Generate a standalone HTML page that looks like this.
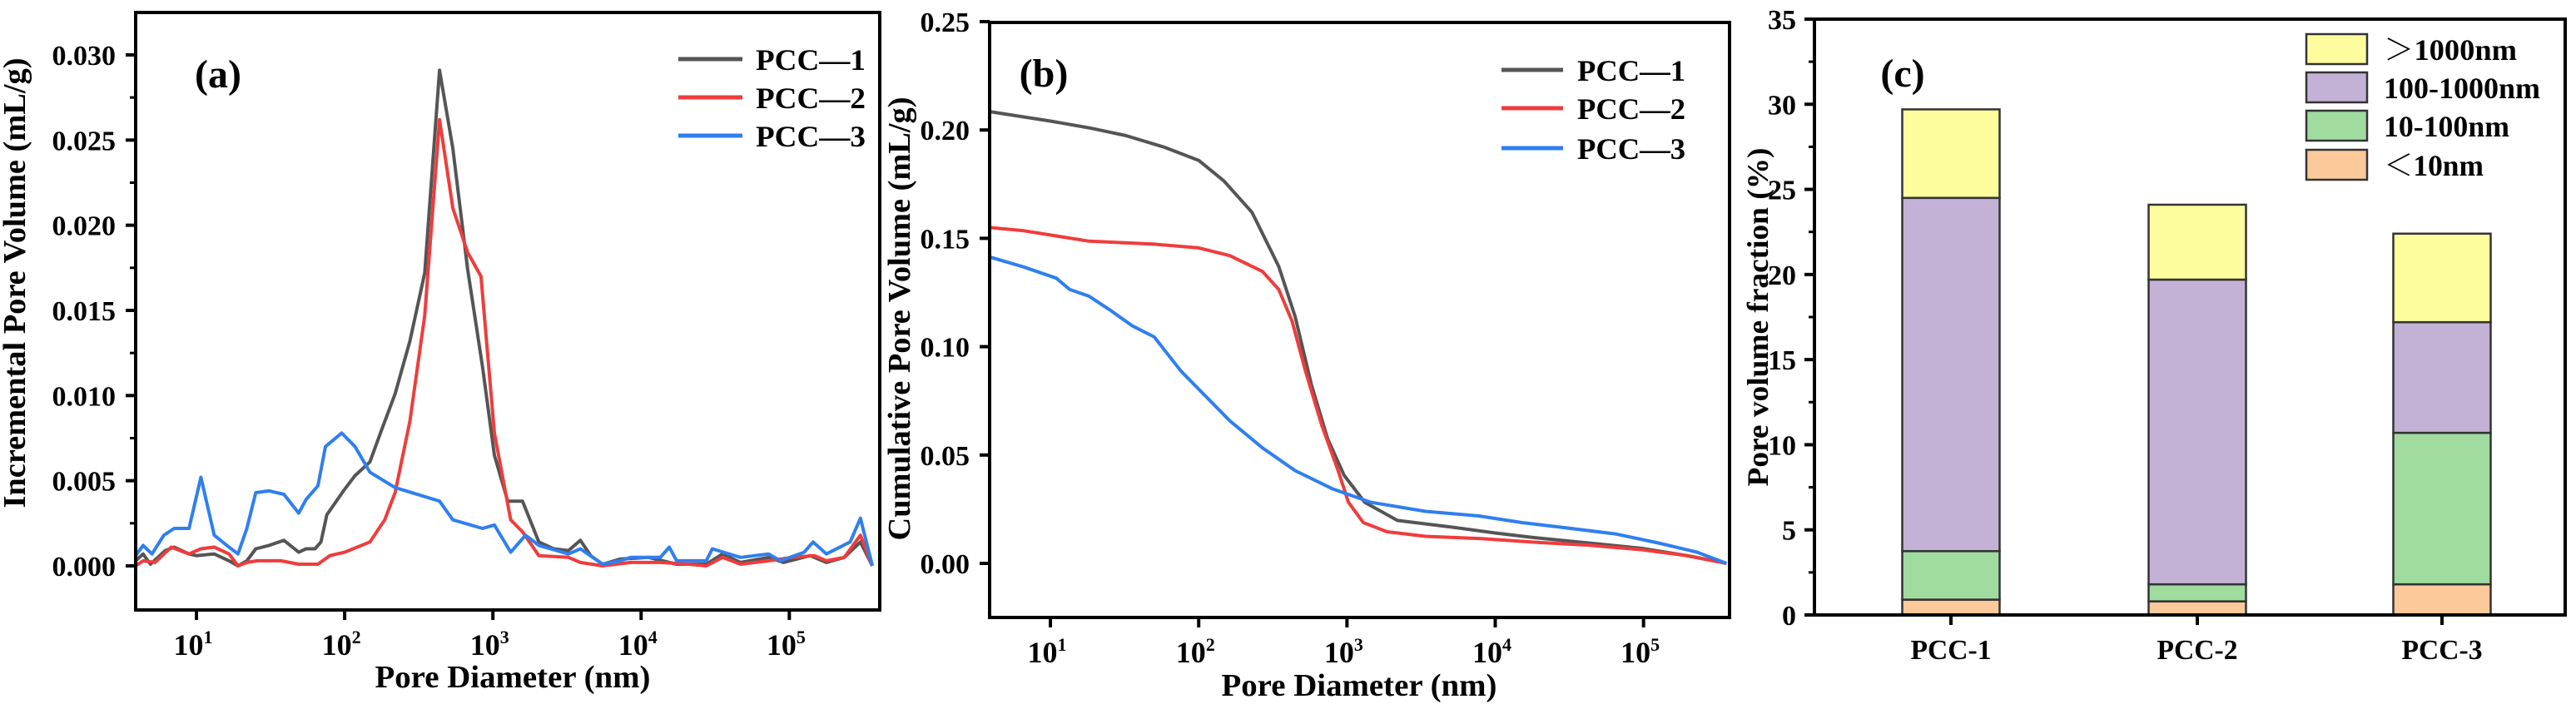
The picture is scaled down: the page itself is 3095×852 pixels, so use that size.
<!DOCTYPE html>
<html><head><meta charset="utf-8">
<style>
html,body{margin:0;padding:0;background:#fff;}
svg{display:block;font-family:"Liberation Serif",serif;font-weight:bold;}
</style></head>
<body>
<svg id="fig" width="3095" height="852" viewBox="0 0 3095 852" xmlns="http://www.w3.org/2000/svg">
<rect width="3095" height="852" fill="#fff"/>
</svg>
<script>
// ---- Panel (a) incremental pore volume data: log10(diameter nm), value mL/g
const aLog1 = [0.59,0.64,0.69,0.79,0.85,0.95,1.00,1.12,1.22,1.28,1.34,1.40,1.49,1.59,1.69,1.74,1.80,1.84,1.88,2.00,2.07,2.17,2.25,2.34,2.44,2.54,2.64,2.73,2.83,2.93,3.01,3.10,3.20,3.31,3.41,3.51,3.59,3.66,3.74,3.86,4.05,4.24,4.44,4.55,4.67,4.86,4.96,5.14,5.25,5.37,5.48,5.56];
const aVal1 = [0.0003,0.0007,0.0001,0.0009,0.0011,0.0007,0.0006,0.0007,0.0003,0.0000,0.0003,0.0010,0.0012,0.0015,0.0008,0.0010,0.0010,0.0014,0.0030,0.0045,0.0053,0.0061,0.0080,0.0101,0.0132,0.0172,0.0291,0.0245,0.0174,0.0117,0.0065,0.0038,0.0038,0.0014,0.0010,0.0009,0.0015,0.0006,0.0001,0.0004,0.0005,0.0001,0.0001,0.0007,0.0002,0.0005,0.0002,0.0006,0.0002,0.0005,0.0014,0.0000];
const aLog2 = [0.59,0.64,0.72,0.83,0.95,1.03,1.12,1.22,1.28,1.34,1.41,1.57,1.69,1.82,1.90,2.00,2.17,2.27,2.34,2.44,2.54,2.64,2.73,2.83,2.92,3.01,3.12,3.20,3.31,3.51,3.59,3.74,3.93,4.13,4.32,4.44,4.55,4.67,4.86,5.02,5.17,5.25,5.37,5.48,5.56];
const aVal2 = [0.0000,0.0003,0.0002,0.0011,0.0007,0.0010,0.0011,0.0007,0.0000,0.0002,0.0003,0.0003,0.0001,0.0001,0.0006,0.0008,0.0014,0.0027,0.0043,0.0085,0.0147,0.0262,0.0210,0.0184,0.0170,0.0078,0.0027,0.0020,0.0006,0.0005,0.0002,0.0000,0.0002,0.0002,0.0001,0.0000,0.0005,0.0001,0.0003,0.0005,0.0006,0.0003,0.0005,0.0018,0.0000];
const aLog3 = [0.59,0.64,0.70,0.78,0.85,0.95,1.03,1.12,1.22,1.28,1.34,1.40,1.49,1.59,1.69,1.74,1.82,1.87,1.98,2.07,2.17,2.34,2.64,2.73,2.93,3.01,3.12,3.22,3.31,3.51,3.59,3.74,3.86,3.93,4.13,4.19,4.24,4.44,4.48,4.67,4.86,4.94,5.10,5.16,5.25,5.41,5.48,5.56];
const aVal3 = [0.0006,0.0012,0.0007,0.0018,0.0022,0.0022,0.0052,0.0018,0.0011,0.0007,0.0022,0.0043,0.0044,0.0042,0.0031,0.0039,0.0047,0.0070,0.0078,0.0070,0.0055,0.0046,0.0038,0.0027,0.0022,0.0024,0.0008,0.0018,0.0012,0.0007,0.0010,0.0001,0.0003,0.0005,0.0005,0.0011,0.0003,0.0003,0.0010,0.0005,0.0007,0.0003,0.0008,0.0014,0.0007,0.0014,0.0028,0.0000];
const aYTicks = [0,0.005,0.010,0.015,0.020,0.025,0.030];
const aYLabels = ["0.000","0.005","0.010","0.015","0.020","0.025","0.030"];
// ---- Panel (b) cumulative pore volume
const bLog1 = [0.59,1.0,1.26,1.51,1.77,2.0,2.17,2.36,2.54,2.65,2.76,2.87,2.98,3.12,3.34,3.71,4.0,4.26,4.63,4.99,5.29,5.56];
const bVal1 = [0.2085,0.2041,0.201,0.1974,0.192,0.186,0.1765,0.162,0.137,0.114,0.0825,0.0574,0.0407,0.0282,0.0198,0.0167,0.014,0.0119,0.0094,0.0069,0.0036,0];
const bLog2 = [0.59,0.82,1.26,1.70,2.0,2.21,2.43,2.54,2.63,2.72,2.83,2.94,3.01,3.11,3.27,3.53,3.89,4.26,4.63,4.99,5.29,5.56];
const bVal2 = [0.155,0.1535,0.1487,0.1473,0.1456,0.142,0.1347,0.1264,0.1118,0.0888,0.0637,0.0428,0.0282,0.0188,0.0146,0.0125,0.0115,0.0098,0.0084,0.0063,0.0036,0];
const bLog3 = [0.59,0.82,1.04,1.13,1.26,1.40,1.55,1.70,1.88,2.0,2.21,2.43,2.65,2.90,3.16,3.53,3.89,4.18,4.44,4.81,5.10,5.36,5.56];
const bVal3 = [0.1414,0.1368,0.1316,0.1264,0.1233,0.117,0.1097,0.1045,0.0888,0.0804,0.0658,0.0533,0.0428,0.0345,0.0282,0.024,0.0219,0.0188,0.0167,0.0136,0.0094,0.0052,0];
const bYTicks = [0,0.05,0.10,0.15,0.20,0.25];
const bYLabels = ["0.00","0.05","0.10","0.15","0.20","0.25"];
// ---- Panel (c) stacked bars (%)
const cCats = ["PCC-1","PCC-2","PCC-3"];
const cLt10 = [0.9,0.8,1.8];
const c10to100 = [2.85,1.0,8.9];
const c100to1000 = [20.75,17.9,6.5];
const cGt1000 = [5.2,4.4,5.2];
const cYTicks = [0,5,10,15,20,25,30,35];
const xDecades = [1,2,3,4,5];

const NS = "http://www.w3.org/2000/svg";
const svg = document.getElementById('fig');
function mk(tag, attrs, parent){
  const e = document.createElementNS(NS, tag);
  for (const k in attrs) e.setAttribute(k, attrs[k]);
  (parent||svg).appendChild(e);
  return e;
}
function stretch(t, len){ t.setAttribute('textLength', len); t.setAttribute('lengthAdjust','spacingAndGlyphs'); }
const colors = ["#555555","#f03c3c","#2f7fef"];
const names = ["PCC\u20141","PCC\u20142","PCC\u20143"];

function linePanel(cfg){
  const g = mk('g', {});
  
  
  const L=cfg.L,R=cfg.R,T=cfg.T,B=cfg.B;
  const xs = v => L + (v - cfg.xmin)/(cfg.xmax-cfg.xmin)*(R-L);
  const ys = v => cfg.y0 - v*cfg.yScale;
  cfg.series.forEach((s,i)=>{
    const d = s[0].map((lx,j)=> (j?'L':'M')+xs(lx).toFixed(1)+','+ys(s[1][j]).toFixed(1)).join(' ');
    const p = mk('path', {d:d, fill:'none', stroke:colors[i], 'stroke-width':4, 'stroke-linejoin':'round'}, g);
    
    
  });
  const fr = mk('rect', {x:L,y:T,width:R-L,height:B-T,fill:'none',stroke:'#000','stroke-width':4}, g);
  
  
  cfg.yTicks.forEach((v,i)=>{
    const y = ys(v);
    mk('line',{x1:L-12,x2:L,y1:y,y2:y,stroke:'#000','stroke-width':4},g);
    const t = mk('text',{x:L-24,y:y+12,'font-size':34,'text-anchor':'end'},g);
    t.textContent = cfg.yLabels[i];
    
    
    if (i < cfg.yTicks.length-1 && cfg.minor){
      const ym = ys((v + cfg.yTicks[i+1])/2);
      mk('line',{x1:L-7,x2:L,y1:ym,y2:ym,stroke:'#000','stroke-width':3},g);
    }
  });
  xDecades.forEach(dcd=>{
    const x = xs(dcd);
    mk('line',{x1:x,x2:x,y1:B,y2:B+12,stroke:'#000','stroke-width':4},g);
    const t = mk('text',{x:x-4,y:B+54,'font-size':36,'text-anchor':'middle'},g);
    
    
    t.appendChild(document.createTextNode('10'));
    const sp = mk('tspan',{dy:-14,'font-size':22},t);
    sp.textContent = String(dcd);
  });
  const xt = mk('text',{x:cfg.xtX,y:cfg.xtY,'font-size':38,'text-anchor':'middle'},g);
  xt.textContent = 'Pore Diameter  (nm)';
  stretch(xt, 331);
  
  
  const yt = mk('text',{x:0,y:0,'font-size':38,'text-anchor':'middle',transform:`translate(${cfg.ytX},${cfg.ytY}) rotate(-90)`},g);
  yt.textContent = cfg.ytitle;
  stretch(yt, cfg.ytLen);
  
  
  const pl = mk('text',{x:cfg.plX,y:cfg.plY,'font-size':48,'text-anchor':'middle'},g);
  pl.textContent = cfg.label;
  
  
  names.forEach((n,i)=>{
    const y = cfg.legY[i];
    const eg = mk('g',{},g);
    
    
    mk('line',{x1:cfg.legX1,x2:cfg.legX2,y1:y,y2:y,stroke:colors[i],'stroke-width':5},eg);
    const t = mk('text',{x:cfg.legTX,y:y+13,'font-size':36},eg);
    t.textContent = n;
    stretch(t, cfg.legLen);
  });
}

linePanel({name:'chart-a-incremental', L:163,R:1057,T:15,B:733, xmin:0.59,xmax:5.61,
  y0:680, yScale:(680-66)/0.030, series:[[aLog1,aVal1],[aLog2,aVal2],[aLog3,aVal3]],
  yTicks:aYTicks,yLabels:aYLabels,minor:true,
  xtX:616,xtY:826, ytX:30,ytY:340, ytLen:541, ytitle:'Incremental Pore Volume  (mL/g)',
  plX:262,plY:105,label:'(a)', legY:[71,117,163], legX1:815,legX2:892,legTX:908, legLen:132});

linePanel({name:'chart-b-cumulative', L:1189,R:2078,T:27,B:742, xmin:0.59,xmax:5.58,
  y0:677, yScale:(677-26)/0.25, series:[[bLog1,bVal1],[bLog2,bVal2],[bLog3,bVal3]],
  yTicks:bYTicks,yLabels:bYLabels,minor:false,
  xtX:1633,xtY:836, ytX:1093,ytY:383, ytLen:533, ytitle:'Cumulative Pore Volume  (mL/g)',
  plX:1254,plY:104,label:'(b)', legY:[84,130,178], legX1:1804,legX2:1878,legTX:1895, legLen:130});

// ---- Panel (c)
(function(){
  const g = mk('g',{});
  
  
  const L=2180,R=3082,T=23,B=739;
  const ys = v => B - v/35*(B-T);
  const centers = [2344,2640,2934];
  const bw = 117;
  const layers = [[cLt10,'#fbc99a','lt10'],[c10to100,'#a0dba0','10-100'],[c100to1000,'#c3b1d6','100-1000'],[cGt1000,'#fdfd9e','gt1000']];
  cCats.forEach((c,i)=>{
    let acc = 0;
    layers.forEach(([arr,col,nm])=>{
      const y1 = ys(acc), y2 = ys(acc+arr[i]);
      const r = mk('rect',{x:centers[i]-bw/2,y:y2,width:bw,height:y1-y2,fill:col,stroke:'#333','stroke-width':2.5},g);
      
      
      acc += arr[i];
    });
    mk('line',{x1:centers[i],x2:centers[i],y1:B,y2:B+12,stroke:'#000','stroke-width':4},g);
    const t = mk('text',{x:centers[i],y:B+53,'font-size':34,'text-anchor':'middle'},g);
    t.textContent = c;
    stretch(t, 97);
    
    
  });
  const fr = mk('rect',{x:L,y:T,width:R-L,height:B-T,fill:'none',stroke:'#000','stroke-width':4},g);
  
  
  cYTicks.forEach((v,i)=>{
    const y = ys(v);
    mk('line',{x1:L-12,x2:L,y1:y,y2:y,stroke:'#000','stroke-width':4},g);
    const t = mk('text',{x:L-22,y:y+12,'font-size':34,'text-anchor':'end'},g);
    t.textContent = String(v);
    
    
    if (i<cYTicks.length-1){ const ym=ys(v+2.5); mk('line',{x1:L-7,x2:L,y1:ym,y2:ym,stroke:'#000','stroke-width':3},g); }
  });
  const yt = mk('text',{x:0,y:0,'font-size':36,'text-anchor':'middle',transform:'translate(2124,381) rotate(-90)'},g);
  yt.textContent = 'Pore volume fraction (%)';
  stretch(yt, 407);
  
  
  const pl = mk('text',{x:2286,y:104,'font-size':48,'text-anchor':'middle'},g);
  pl.textContent = '(c)';
  
  
  const leg = [['\uFF1E1000nm','#fdfd9e',41,160],['100-1000nm','#c3b1d6',87,188],['10-100nm','#a0dba0',133,151],['\uFF1C10nm','#fbc99a',180,120]];
  leg.forEach(([txt,col,y,len])=>{
    const eg = mk('g',{},g);
    
    
    mk('rect',{x:2771,y:y,width:73,height:36,fill:col,stroke:'#333','stroke-width':2.5},eg);
    const t = mk('text',{x:2864,y:y+31,'font-size':36,style:'font-family:"Liberation Serif","Noto Serif CJK SC",serif'},eg);
    t.textContent = txt;
    stretch(t, len);
  });
})();
</script>
</body></html>
